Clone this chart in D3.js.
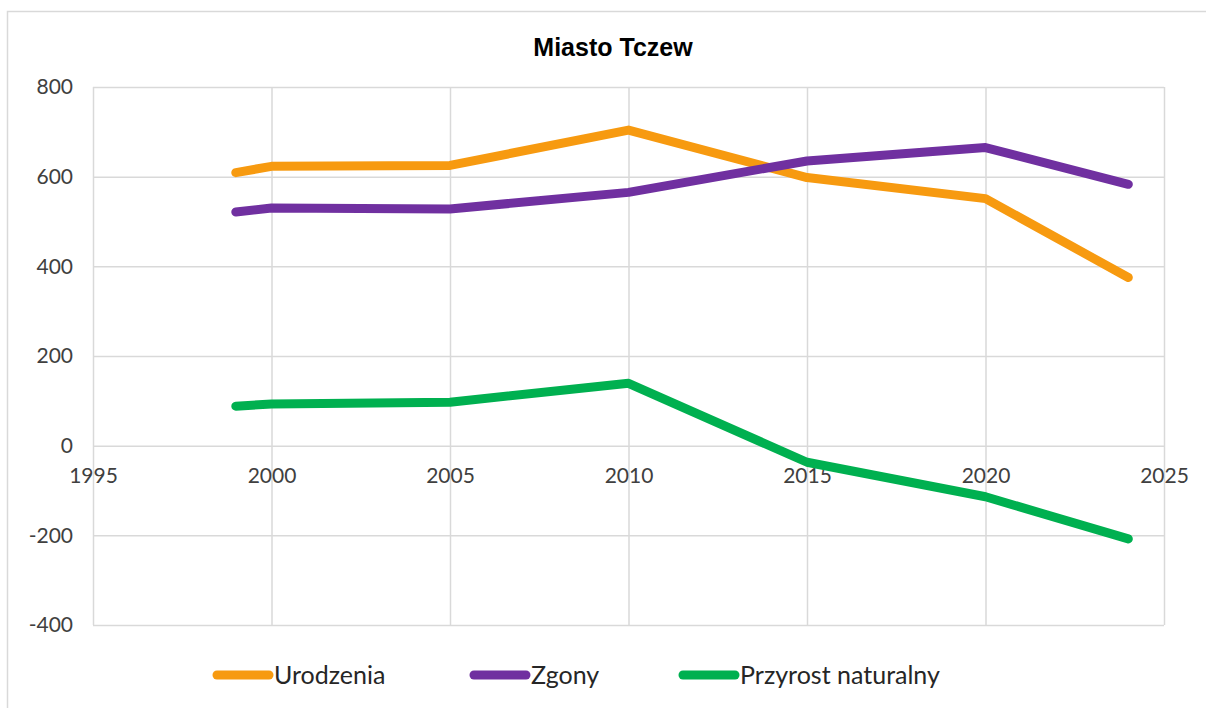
<!DOCTYPE html>
<html><head><meta charset="utf-8">
<script src="https://cdn.jsdelivr.net/npm/d3@7"></script>
<style>
html,body{margin:0;padding:0;background:#fff;}
svg{display:block;}
</style></head>
<body>
<svg id="chart" width="1206" height="708"></svg>
<script>
const title = "Miasto Tczew";
const years = [1999, 2000, 2005, 2010, 2015, 2020, 2024];
const urodzenia = [609, 623, 625, 704, 598, 551, 375];
const zgony = [521, 530, 528, 565, 635, 665, 583];
const przyrost = [88, 93, 97, 139, -37, -114, -208];
const seriesNames = ["Urodzenia", "Zgony", "Przyrost naturalny"];
const seriesColors = ["#F79A10", "#7030A0", "#00B050"];
const xTicks = [1995, 2000, 2005, 2010, 2015, 2020, 2025];
const yTicks = [-400, -200, 0, 200, 400, 600, 800];

const svg = d3.select("#chart");
const W = 1206, H = 708;
const plot = {left: 93, right: 1164, top: 87, bottom: 625};

// outer chart border
svg.append("rect").attr("x", 7.5).attr("y", 11.5).attr("width", W + 10).attr("height", H + 10)
  .attr("fill", "#fff").attr("stroke", "#d9d9d9").attr("stroke-width", 1.5);

const x = d3.scaleLinear().domain([1995, 2025]).range([plot.left, plot.right]);
const y = d3.scaleLinear().domain([-400, 800]).range([plot.bottom, plot.top]);

const font = "Lato, 'Open Sans', sans-serif";
const fmt = d => String(d);

// gridlines
const gx = svg.append("g").attr("transform", `translate(0,${plot.bottom})`)
  .call(d3.axisBottom(x).tickValues(xTicks).tickSize(-(plot.bottom - plot.top)).tickFormat(""));
const gy = svg.append("g").attr("transform", `translate(${plot.left},0)`)
  .call(d3.axisLeft(y).tickValues(yTicks).tickSize(-(plot.right - plot.left)).tickFormat(""));
[gx, gy].forEach(g => {
  g.select(".domain").remove();
  g.selectAll("line").attr("stroke", "#d9d9d9").attr("stroke-width", 1.5);
});

// y tick labels
const yl = svg.append("g").attr("transform", `translate(${plot.left},0)`)
  .call(d3.axisLeft(y).tickValues(yTicks).tickSize(0).tickPadding(20).tickFormat(fmt));
yl.select(".domain").remove();
yl.selectAll("text").attr("font-family", font).attr("font-size", 21).attr("fill", "#404040");

// x tick labels along the zero line
const xl = svg.append("g").attr("transform", `translate(0,${y(0)})`)
  .call(d3.axisBottom(x).tickValues(xTicks).tickSize(0).tickPadding(22).tickFormat(fmt));
xl.select(".domain").remove();
xl.selectAll("text").attr("font-family", font).attr("font-size", 21).attr("fill", "#404040");

// lines
const seriesData = [urodzenia, zgony, przyrost];
const line = d3.line().x((d, i) => x(years[i])).y(d => y(d));
seriesData.forEach((vals, k) => {
  svg.append("path").datum(vals).attr("d", line)
    .attr("fill", "none").attr("stroke", seriesColors[k]).attr("stroke-width", 9)
    .attr("stroke-linecap", "round").attr("stroke-linejoin", "round");
});

// title
svg.append("text").attr("x", 613).attr("y", 56).attr("text-anchor", "middle")
  .attr("font-family", "'Liberation Sans', Arial, sans-serif").attr("font-weight", "bold")
  .attr("font-size", 25).attr("fill", "#000").text(title);

// legend
const legendX = [213, 470, 679];
const legendY = 675;
seriesNames.forEach((name, k) => {
  const g = svg.append("g");
  g.append("line").attr("x1", legendX[k] + 4).attr("x2", legendX[k] + 56)
    .attr("y1", legendY).attr("y2", legendY)
    .attr("stroke", seriesColors[k]).attr("stroke-width", 9).attr("stroke-linecap", "round");
  g.append("text").attr("x", legendX[k] + 61).attr("y", legendY).attr("dy", "0.35em")
    .attr("font-family", font).attr("font-size", 25).attr("fill", "#262626").text(name);
});
</script>
</body></html>
